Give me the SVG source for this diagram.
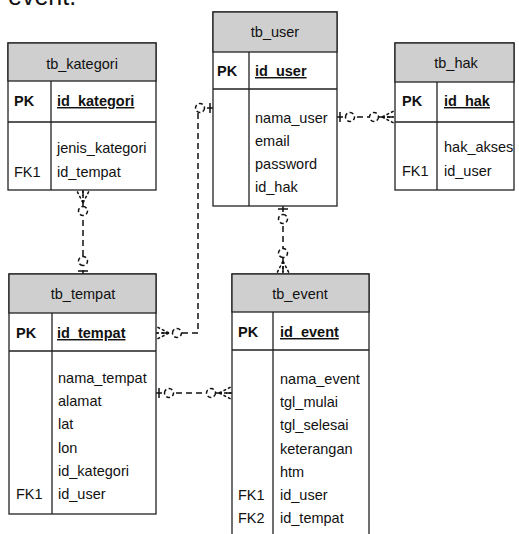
<svg xmlns="http://www.w3.org/2000/svg" xmlns:xlink="http://www.w3.org/1999/xlink" width="519" height="534" viewBox="0 0 519 534">
<style>
text{font-family:"Liberation Sans",Arial,sans-serif;font-size:14.5px;fill:#111}
.b{font-weight:bold}
.u{font-weight:bold;text-decoration:underline}
.h{text-anchor:middle}
.box{fill:#fff;stroke:#222;stroke-width:1.3}
.hdr{fill:#cfcfcf;stroke:#222;stroke-width:1.3}
.ln{stroke:#222;stroke-width:1.3;fill:none}
.con{stroke:#111;stroke-width:1.5;fill:none;stroke-dasharray:6 4}
.sym{stroke:#111;stroke-width:1.5;fill:none;stroke-dasharray:3 2}
.bar{stroke:#111;stroke-width:1.5;fill:none}
.circ{stroke:#111;stroke-width:1.5;fill:#fff;stroke-dasharray:4 2.5}
</style>
<defs>
<g id="many">
<path class="sym" d="M-13,0 L-1,-6 M-13,0 L-1,6 M-13,0 L-1,0"/>
<circle class="circ" cx="-21" cy="0" r="4.5"/>
</g>
<g id="one">
<path class="bar" d="M-3,-5 V5"/>
<circle class="circ" cx="-13" cy="0" r="4.5"/>
</g>
</defs>

<text x="8" y="4.5" style="font-size:25px">event.</text>

<g id="connectors">
<path class="con" d="M83,190 V274"/>
<use xlink:href="#many" transform="translate(83,190) rotate(-90)"/>
<use xlink:href="#one" transform="translate(83,274) rotate(90)"/>

<path class="con" d="M213,108 H198 V333 H156"/>
<use xlink:href="#one" transform="translate(213,108)"/>
<use xlink:href="#many" transform="translate(156,333) rotate(180)"/>

<path class="con" d="M337,117 H395"/>
<use xlink:href="#one" transform="translate(337,117) rotate(180)"/>
<use xlink:href="#many" transform="translate(395,117)"/>

<path class="con" d="M283,206 V274"/>
<use xlink:href="#one" transform="translate(283,206) rotate(-90)"/>
<use xlink:href="#many" transform="translate(283,274) rotate(90)"/>

<path class="con" d="M156,393 H232"/>
<use xlink:href="#one" transform="translate(156,393) rotate(180)"/>
<use xlink:href="#many" transform="translate(232,393)"/>
</g>

<g id="tb_kategori">
<rect class="box" x="8" y="43" width="148" height="147"/>
<rect class="hdr" x="8" y="43" width="148" height="38"/>
<path class="ln" d="M8,122 H156 M51,81 V190"/>
<text class="h" x="82" y="69">tb_kategori</text>
<text class="b" x="14" y="106">PK</text>
<text class="u" x="57" y="106">id_kategori</text>
<text x="57" y="153">jenis_kategori</text>
<text x="14" y="177">FK1</text>
<text x="57" y="177">id_tempat</text>
</g>

<g id="tb_user">
<rect class="box" x="213" y="12" width="124" height="194"/>
<rect class="hdr" x="213" y="12" width="124" height="40"/>
<path class="ln" d="M213,89 H337 M249,52 V206"/>
<text class="h" x="275" y="37">tb_user</text>
<text class="b" x="217" y="76">PK</text>
<text class="u" x="255" y="76">id_user</text>
<text x="255" y="123">nama_user</text>
<text x="255" y="146">email</text>
<text x="255" y="169">password</text>
<text x="255" y="192">id_hak</text>
</g>

<g id="tb_hak">
<rect class="box" x="395" y="43" width="119" height="147"/>
<rect class="hdr" x="395" y="43" width="119" height="39"/>
<path class="ln" d="M395,122 H514 M437,82 V190"/>
<text class="h" x="456" y="68">tb_hak</text>
<text class="b" x="402" y="106">PK</text>
<text class="u" x="444" y="106">id_hak</text>
<text x="444" y="152">hak_akses</text>
<text x="402" y="176">FK1</text>
<text x="444" y="176">id_user</text>
</g>

<g id="tb_tempat">
<rect class="box" x="9" y="274" width="147" height="240"/>
<rect class="hdr" x="9" y="274" width="147" height="39"/>
<path class="ln" d="M9,351 H156 M52,313 V514"/>
<text class="h" x="83" y="299">tb_tempat</text>
<text class="b" x="16" y="338">PK</text>
<text class="u" x="57" y="338">id_tempat</text>
<text x="58" y="383">nama_tempat</text>
<text x="58" y="406">alamat</text>
<text x="58" y="429">lat</text>
<text x="58" y="453">lon</text>
<text x="58" y="476">id_kategori</text>
<text x="16" y="499">FK1</text>
<text x="58" y="499">id_user</text>
</g>

<g id="tb_event">
<rect class="box" x="232" y="274" width="137" height="270"/>
<rect class="hdr" x="232" y="274" width="137" height="38"/>
<path class="ln" d="M232,350 H369 M273,312 V544"/>
<text class="h" x="300" y="299">tb_event</text>
<text class="b" x="238" y="337">PK</text>
<text class="u" x="280" y="337">id_event</text>
<text x="280" y="384">nama_event</text>
<text x="280" y="407">tgl_mulai</text>
<text x="280" y="430">tgl_selesai</text>
<text x="280" y="454">keterangan</text>
<text x="280" y="477">htm</text>
<text x="238" y="500">FK1</text>
<text x="280" y="500">id_user</text>
<text x="238" y="523">FK2</text>
<text x="280" y="523">id_tempat</text>
</g>
</svg>
